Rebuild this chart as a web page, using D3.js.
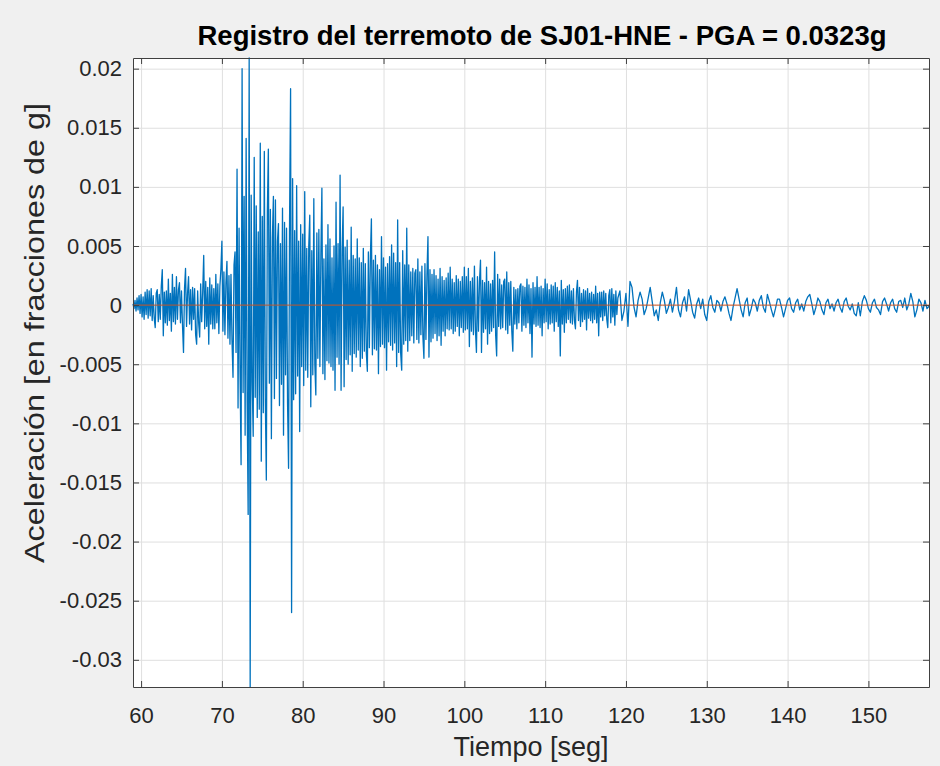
<!DOCTYPE html>
<html>
<head>
<meta charset="utf-8">
<script src="https://cdn.jsdelivr.net/npm/d3@7"></script>
<style>
  body { margin: 0; background: #f0f0f0; }
  svg text { font-family: "Liberation Sans", Arial, sans-serif; fill: #262626; }
</style>
</head>
<body>
<script>
const width = 940,
    height = 766;
const margin = {top: 58, right: 11, bottom: 79, left: 133};
const innerW = width - margin.left - margin.right,
    innerH = height - margin.top - margin.bottom;

// strong-motion part: start time and sample interval [s]
const strongStart = 59.0,
    strongStep = 0.125;
// acceleration, thousandths of g, 10 s per block (8 samples/s)
const accStrong1 = [
    0.1, -0.3, 0.4, -0.5, 0.6, -0.4, 0.8, -0.7,
    0.9, -1.0, 0.7, -1.2, 1.1, -0.8, 1.3, -1.1,
    1.2, -0.9, 1.4, -1.3, 0.8, -1.1, -1.9, 1.0,
    1.3, -1.4, 0.9, -1.2, 1.6, 3.0, -2.6, 1.1,
    -1.5, 1.2, -1.7, 2.2, -1.3, 1.0, -2.2, 2.6,
    -1.4, 1.5, -1.6, 2.4, -1.2, 1.3, 1.9, -1.5,
    1.2, -1.7, -4.0, 1.4, 3.1, -1.8, 1.0, 2.4,
    -1.6, 1.3, -2.1, 1.5, -1.2, 1.4, -2.5, -3.3,
    1.2, -1.5, -2.7, 1.8, -1.4, 1.1, 4.2, -2.0,
    2.0, -1.8, 1.5, -3.3, 2.3, -1.6, 1.7, -2.0];
const accStrong2 = [
    1.4, -2.0, 2.6, -1.5, 1.8, -2.4, 1.6, 3.0,
    5.4, -2.2, 2.8, -2.5, 1.9, 3.7, -2.8, 2.5,
    -3.3, 2.6, -3.0, -6.1, 3.4, 4.5, -4.0, 11.5,
    -8.7, 6.5, -5.8, -13.5, 20.0, -7.4, 9.2, -11.0,
    14.1, -8.2, -17.7, 20.9, -32.3, 9.3, -6.5, -11.1,
    12.5, -7.8, 8.4, -9.5, 6.2, -8.8, 13.7, -13.2,
    7.5, -9.1, 13.0, -8.0, -14.8, 7.9, 13.2, -6.6,
    8.1, -11.3, 5.7, 9.2, -7.9, 8.9, -6.2, 5.4,
    6.9, -8.5, 5.2, -6.7, 8.2, -11.0, 7.0, -5.9,
    6.5, -8.3, -13.8, 7.2, 18.3, -26.0, 10.7, -8.0];
const accStrong3 = [
    6.3, -7.5, 10.1, -6.0, 5.4, -10.7, 6.8, -5.2,
    6.0, -6.8, 9.6, -5.5, 4.8, -6.1, 5.0, 7.6,
    -8.6, 4.6, -5.9, 9.0, -5.0, -7.6, 6.1, -4.5,
    6.4, -5.2, 4.3, 9.9, -5.8, 3.9, -6.3, 5.1,
    -4.7, 6.8, -4.9, 5.6, -5.2, 4.0, -5.5, 5.0,
    -7.2, 8.7, -4.4, 5.2, -5.0, 11.0, -7.2, 4.6,
    8.3, -6.9, 4.9, -4.6, 5.5, -5.0, 3.8, -4.2,
    6.6, -5.6, 4.2, -4.1, 3.9, -4.4, 5.6, -3.8,
    4.0, -5.2, 3.6, -4.5, 4.8, -3.9, 3.5, -4.1,
    -5.6, 4.5, -3.6, 4.1, 7.3, -4.2, 3.8, -3.7];
const accStrong4 = [
    4.2, -3.8, 3.4, -5.8, 3.0, -3.5, 5.8, -3.3,
    4.0, -3.6, 3.2, -5.5, 3.5, -3.1, 4.1, -3.4,
    5.1, -3.8, 4.4, -3.2, 3.6, -5.2, 7.2, -4.0,
    3.6, -4.1, -5.5, 4.6, -3.3, 3.4, -3.0, 6.5,
    -3.9, 3.4, -3.0, 2.8, -2.6, 3.1, -3.2, 2.7,
    3.0, -2.9, 3.9, -3.2, 2.8, -2.5, 3.3, -2.7,
    -4.5, 3.5, -2.9, 2.6, 5.8, -4.4, 3.0, -3.1,
    2.6, -2.8, 3.0, -2.4, 2.5, -3.0, 2.2, -2.6,
    3.1, -3.4, 2.4, -2.2, 2.1, -2.6, 2.3, -2.0,
    2.7, -2.1, 3.2, -2.0, 2.2, -2.4, 1.9, -2.2];
const accStrong5 = [
    2.5, -1.8, 2.2, -2.6, 2.0, -1.9, 2.4, -2.3,
    3.2, -2.1, 2.4, -2.0, 3.1, -3.5, 2.0, -2.2,
    2.3, -2.5, 3.3, -2.1, -4.0, 2.4, -2.2, 2.0,
    3.8, -4.0, 2.1, -2.3, 1.9, -2.0, 3.2, -3.3,
    2.0, -2.4, 1.8, -2.2, 2.1, -1.9, 4.5, -2.5,
    -4.3, 2.6, -1.8, 2.2, -2.0, 1.7, -1.9, 2.0,
    2.2, -2.1, 2.8, -2.4, 1.9, -1.7, 2.0, -2.2,
    -3.9, 1.5, -1.6, 1.3, -2.0, 1.4, -1.5, 1.6,
    1.8, -2.2, 1.6, -1.7, 1.5, -1.9, 2.2, -1.5,
    1.7, -2.4, 1.4, -4.4, 1.9, -1.6, 1.5, -1.8];
const accStrong6 = [
    2.4, -1.7, 1.5, -1.9, 1.6, -2.6, 1.4, -1.5,
    2.2, -1.4, 1.8, -2.0, 1.3, -1.6, 1.7, -1.5,
    1.6, -2.2, 1.9, -1.4, 1.5, -1.8, 1.2, -4.3,
    2.1, -1.6, 1.3, -2.3, 1.4, -1.5, 1.6, -1.2,
    1.7, -1.5, 1.2, -1.6, 1.4, -1.3, -2.0, 1.1,
    2.1, -1.3, 1.5, -1.8, 1.0, -1.4, 1.3, -1.2,
    1.2, -2.1, 1.4, -1.1, 1.0, -1.3, 1.1, -1.5,
    0.9, -1.2, 1.6, -1.5, 1.0, -2.6, 1.1, -1.0,
    1.1, -1.3, 1.2, -0.9, 1.0, -1.2, -1.9, 0.8,
    1.3, -1.5, 1.4, -1.0, 0.9, -1.7, 1.2, -0.8];

// coda: start time and sample interval [s], 4 samples/s
const codaStart = 119.0,
    codaStep = 0.25;
const accCoda1 = [0.6, 1.2, -1.3, -0.5, 1.0, -1.8, 2.0, 1.5, -0.2, -1.0,
    0.4, 1.1, 0.5, -0.8, -0.3, 0.6, 1.5, 0.3, -0.9, -0.4,
    -1.3, 0.2, 1.1, 0.4, -0.7, -0.2, 0.5, -0.6, 0.3, 1.5,
    -0.4, -1.0, 0.2, 0.7, -0.5, 1.3, 0.4, -0.6, -1.1, 0.1];
const accCoda2 = [0.6, -0.3, 0.5, -0.8, -1.3, 0.3, 0.8, -0.2, -0.6, 0.4,
    0.2, -0.5, 0.3, 0.7, 0.1, -0.7, -1.3, -0.2, 0.6, 1.4,
    0.5, -0.4, -1.0, 0.2, 0.6, -0.9, -0.3, 0.5, 0.2, -0.5,
    0.4, 0.8, -0.2, -0.6, 0.9, 0.3, -0.4, -1.0, -0.3, 0.5];
const accCoda3 = [0.5, -0.2, -1.0, -0.3, 0.4, 0.6, -0.3, -0.6, 0.2, 0.5,
    -0.4, 0.1, -0.5, 0.3, 0.7, 0.9, 0.1, -0.8, -0.2, 0.6,
    0.3, -0.4, -0.8, 0.2, 0.5, -0.3, 0.1, -0.5, 0.2, 0.5,
    -0.2, -0.6, 0.3, 0.6, -0.1, -0.4, 0.1, -0.7, -0.9, 0.2];
const accCoda4 = [-0.9, 0.3, 0.8, 0.4, -0.3, -0.6, 0.2, 0.5, -0.2, -0.4,
    -0.8, 0.3, 0.6, 0.1, -0.5, 0.2, 0.5, -0.3, -0.6, 0.3,
    0.4, -0.2, 0.6, -0.4, 0.1, 1.0, 0.3, -1.0, -0.4, 0.5,
    0.2, -0.5, 0.4, -0.3, -0.1];

const xTicks = [60, 70, 80, 90, 100, 110, 120, 130, 140, 150];
const yTicks = [0.02, 0.015, 0.01, 0.005, 0, -0.005, -0.01, -0.015, -0.02, -0.025, -0.03];
const yTickLabels = ["0.02", "0.015", "0.01", "0.005", "0", "-0.005", "-0.01", "-0.015", "-0.02", "-0.025", "-0.03"];

const titleText = "Registro del terremoto de SJ01-HNE - PGA = 0.0323g",
    xLabel = "Tiempo [seg]",
    yLabel = "Aceleración [en fracciones de g]";

const strong = [].concat(accStrong1, accStrong2, accStrong3, accStrong4, accStrong5, accStrong6)
    .map((a, i) => ({t: strongStart + i * strongStep, acc: a / 1000}));
const coda = [].concat(accCoda1, accCoda2, accCoda3, accCoda4)
    .map((a, i) => ({t: codaStart + i * codaStep, acc: a / 1000}));
const record = strong.concat(coda);

const svg = d3.select('body')
    .append('svg')
    .attr('width', width)
    .attr('height', height);

svg.append('rect')
    .attr('width', width)
    .attr('height', height)
    .attr('fill', '#f0f0f0');

const g = svg.append('g')
    .attr('transform', 'translate(' + margin.left + ',' + margin.top + ')');

const x = d3.scaleLinear()
    .domain(d3.extent(record, d => d.t))
    .range([0, innerW]);

const y = d3.scaleLinear()
    .domain(d3.extent(record, d => d.acc))
    .range([innerH, 0]);

g.append('rect')
    .attr('width', innerW)
    .attr('height', innerH)
    .attr('fill', '#ffffff');

// grid
g.append('g')
    .attr('class', 'grid')
    .attr('transform', 'translate(0,' + innerH + ')')
    .call(d3.axisBottom(x).tickValues(xTicks).tickSize(-innerH).tickFormat(''));
g.append('g')
    .attr('class', 'grid')
    .call(d3.axisLeft(y).tickValues(yTicks).tickSize(-innerW).tickFormat(''));
g.selectAll('.grid .domain').remove();
g.selectAll('.grid line')
    .attr('stroke', '#dfdfdf')
    .attr('stroke-width', 1);

const line = d3.line()
    .x(d => x(d.t))
    .y(d => y(d.acc));

g.append('path')
    .datum(record)
    .attr('fill', 'none')
    .attr('stroke', '#0072bd')
    .attr('stroke-width', 1.3)
    .attr('stroke-linejoin', 'round')
    .attr('d', line);

// zero reference line
g.append('path')
    .datum(record)
    .attr('fill', 'none')
    .attr('stroke', '#d95319')
    .attr('stroke-width', 1)
    .attr('d', d3.line().x(d => x(d.t)).y(y(0)));

// axes with inward ticks on all four sides
g.append('g')
    .attr('class', 'axis')
    .attr('transform', 'translate(0,' + innerH + ')')
    .call(d3.axisBottom(x).tickValues(xTicks).tickSize(-6).tickSizeOuter(0).tickPadding(20));
g.append('g')
    .attr('class', 'axis')
    .call(d3.axisLeft(y).tickValues(yTicks).tickSize(-6).tickSizeOuter(0).tickPadding(11)
        .tickFormat((d, i) => yTickLabels[i]));
g.append('g')
    .attr('class', 'axis')
    .call(d3.axisTop(x).tickValues(xTicks).tickSize(-6).tickSizeOuter(0).tickFormat(''));
g.append('g')
    .attr('class', 'axis')
    .attr('transform', 'translate(' + innerW + ',0)')
    .call(d3.axisRight(y).tickValues(yTicks).tickSize(-6).tickSizeOuter(0).tickFormat(''));

g.selectAll('.axis path, .axis line')
    .attr('stroke', '#404040')
    .attr('stroke-width', 1);
g.selectAll('.axis text')
    .attr('font-size', 22)
    .attr('fill', '#262626');

svg.append('text')
    .attr('x', 542)
    .attr('y', 45)
    .attr('text-anchor', 'middle')
    .attr('font-size', 27.5)
    .attr('font-weight', 'bold')
    .style('fill', '#000000')
    .text(titleText);

svg.append('text')
    .attr('x', margin.left + innerW / 2)
    .attr('y', 756)
    .attr('text-anchor', 'middle')
    .attr('font-size', 27)
    .text(xLabel);

svg.append('text')
    .attr('transform', 'translate(44,333) rotate(-90)')
    .attr('text-anchor', 'middle')
    .attr('font-size', 27)
    .attr('textLength', 460)
    .attr('lengthAdjust', 'spacingAndGlyphs')
    .text(yLabel);
</script>
</body>
</html>
